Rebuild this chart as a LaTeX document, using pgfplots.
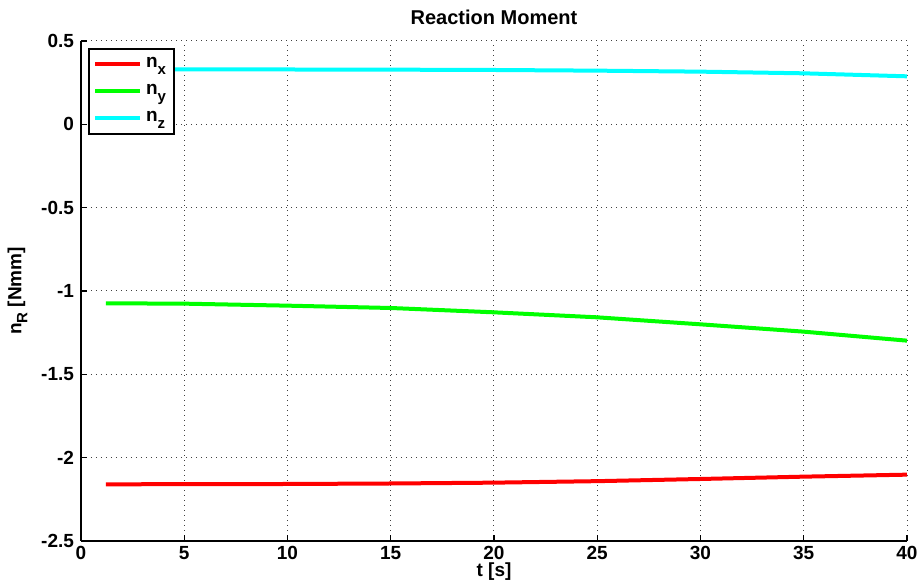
\documentclass[border=0pt]{standalone}
\usepackage{fontspec}
\setmainfont{Liberation Sans}
\usepackage{pgfplots}
\pgfplotsset{compat=1.18}
\definecolor{mred}{RGB}{255,0,0}
\definecolor{mgreen}{RGB}{0,255,0}
\definecolor{mcyan}{RGB}{0,255,255}
\newcommand{\sub}[1]{\raisebox{-0.6ex}{\fontsize{7.5}{7.5}\selectfont\bfseries #1}}
\begin{document}
\begin{tikzpicture}
\path[use as bounding box] (-40.5pt,-20pt) rectangle (419.5pt,270.5pt);
\begin{axis}[
  scale only axis,
  width=413pt, height=250pt,
  xmin=0, xmax=40, ymin=-2.5, ymax=0.5,
  xtick={0,5,...,40},
  ytick={-2.5,-2,-1.5,-1,-0.5,0,0.5},
  yticklabels={-2.5,-2,-1.5,-1,-0.5,0,0.5},
  xticklabels={0,5,10,15,20,25,30,35,40},
  axis x line*=bottom, axis y line*=left,
  axis line style={-, line width=0.6pt, black},
  tick align=inside,
  major tick length=3pt,
  tick style={black, line width=0.6pt},
  grid=major,
  grid style={black!75, line width=0.5pt, dash pattern=on 0.5pt off 2pt},
  ticklabel style={font=\fontsize{9.5}{10}\selectfont\bfseries},
  xticklabel style={yshift=1pt},
  /pgf/number format/assume math mode=true,
  title={\fontsize{10}{11}\selectfont\bfseries Reaction Moment},
  title style={at={(0.5,1)}, anchor=south, yshift=-1.5pt},
  xlabel={\fontsize{9.5}{10}\selectfont\bfseries t [s]},
  ylabel={\fontsize{9.5}{10}\selectfont\bfseries n\sub{R} [Nmm]},
  xlabel style={at={(0.5,0)}, anchor=north, yshift=-7.5pt},
  every axis y label/.append style={at={(ticklabel cs:0.5)}, anchor=south},
  legend style={
    at={(rel axis cs:0.0085,0.986)}, anchor=north west,
    draw=black, line width=1pt, fill=white,
    font=\fontsize{9.5}{10}\selectfont\bfseries,
    inner xsep=2pt, inner ysep=1pt,
    nodes={inner sep=2pt, text height=6.5pt, text depth=3pt},
  },
  legend cell align=left,
  legend image code/.code={\draw[#1, line width=2pt] (0pt,0pt) -- (22.5pt,0pt);},
]
\addplot[mred, line width=2pt] coordinates {
(1.2,-2.160) (5,-2.159) (10,-2.158) (15,-2.155) (20,-2.150) (25,-2.141) (30,-2.128) (35,-2.114) (40,-2.102)};
\addlegendentry{n\sub{x}}
\addplot[mgreen, line width=2pt] coordinates {
(1.2,-1.074) (5,-1.076) (10,-1.088) (15,-1.102) (20,-1.128) (25,-1.158) (30,-1.200) (35,-1.244) (40,-1.298)};
\addlegendentry{n\sub{y}}
\addplot[mcyan, line width=2pt] coordinates {
(1.2,0.330) (5,0.330) (10,0.329) (15,0.328) (20,0.326) (25,0.322) (30,0.316) (35,0.306) (40,0.288)};
\addlegendentry{n\sub{z}}
\end{axis}
\end{tikzpicture}
\end{document}
